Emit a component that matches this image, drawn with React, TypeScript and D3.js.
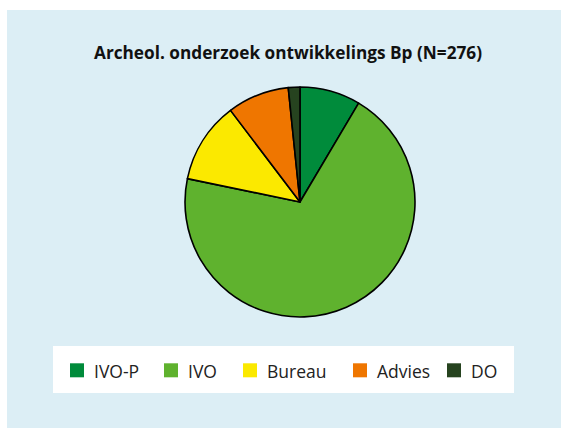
import React from "react";
import * as d3 from "d3";

const categories = ["IVO-P", "IVO", "Bureau", "Advies", "DO"];
const counts = [23.5, 192.5, 31.5, 24, 4.5];
const colors = ["#008b3b", "#5fb22e", "#fbe900", "#ef7600", "#26431f"];
const title = "Archeol. onderzoek ontwikkelings Bp (N=276)";

const width = 561;
const height = 428;
const cx = 300;
const cy = 202;
const radius = 115;

// legend swatch and label x positions, in legend order
const legendSwatchX = [70, 164, 243, 353, 447];
const legendTextGap = 24;

const App = () => {
  const data = categories.map((c, i) => ({ name: c, value: counts[i], color: colors[i] }));

  const pie = d3
    .pie<{ name: string; value: number; color: string }>()
    .value(d => d.value)
    .sort(null);

  const arc = d3
    .arc<d3.PieArcDatum<{ name: string; value: number; color: string }>>()
    .innerRadius(0)
    .outerRadius(radius);

  const arcs = pie(data);

  return (
    <svg
      width={width}
      height={height}
      style={{ position: "absolute", left: 0, top: 0 }}
    >
      <rect x={0} y={0} width={width} height={height} fill="#ffffff" />
      <rect x={7} y={10} width={width - 7} height={height - 10} fill="#dceef5" />

      <text
        x={288}
        y={58.5}
        textAnchor="middle"
        fontFamily="'Open Sans', 'Noto Sans', sans-serif"
        fontWeight="bold"
        fontSize="17px"
        fill="#111"
        textLength={388}
        lengthAdjust="spacingAndGlyphs"
      >
        {title}
      </text>

      <g transform={`translate(${cx},${cy})`}>
        {arcs.map((a, i) => (
          <path
            key={i}
            d={arc(a) || ""}
            fill={a.data.color}
            stroke="#000"
            strokeWidth={1.6}
            strokeLinejoin="round"
          />
        ))}
      </g>

      <rect x={53} y={346} width={461} height={47} fill="#ffffff" />
      {data.map((d, i) => (
        <g key={d.name}>
          <rect x={legendSwatchX[i]} y={363.3} width={14} height={14} fill={d.color} />
          <text
            x={legendSwatchX[i] + legendTextGap}
            y={377.5}
            fontFamily="'Open Sans', 'Noto Sans', sans-serif"
            fontSize="17.5px"
            fill="#222"
          >
            {d.name}
          </text>
        </g>
      ))}
    </svg>
  );
};

export default App;
